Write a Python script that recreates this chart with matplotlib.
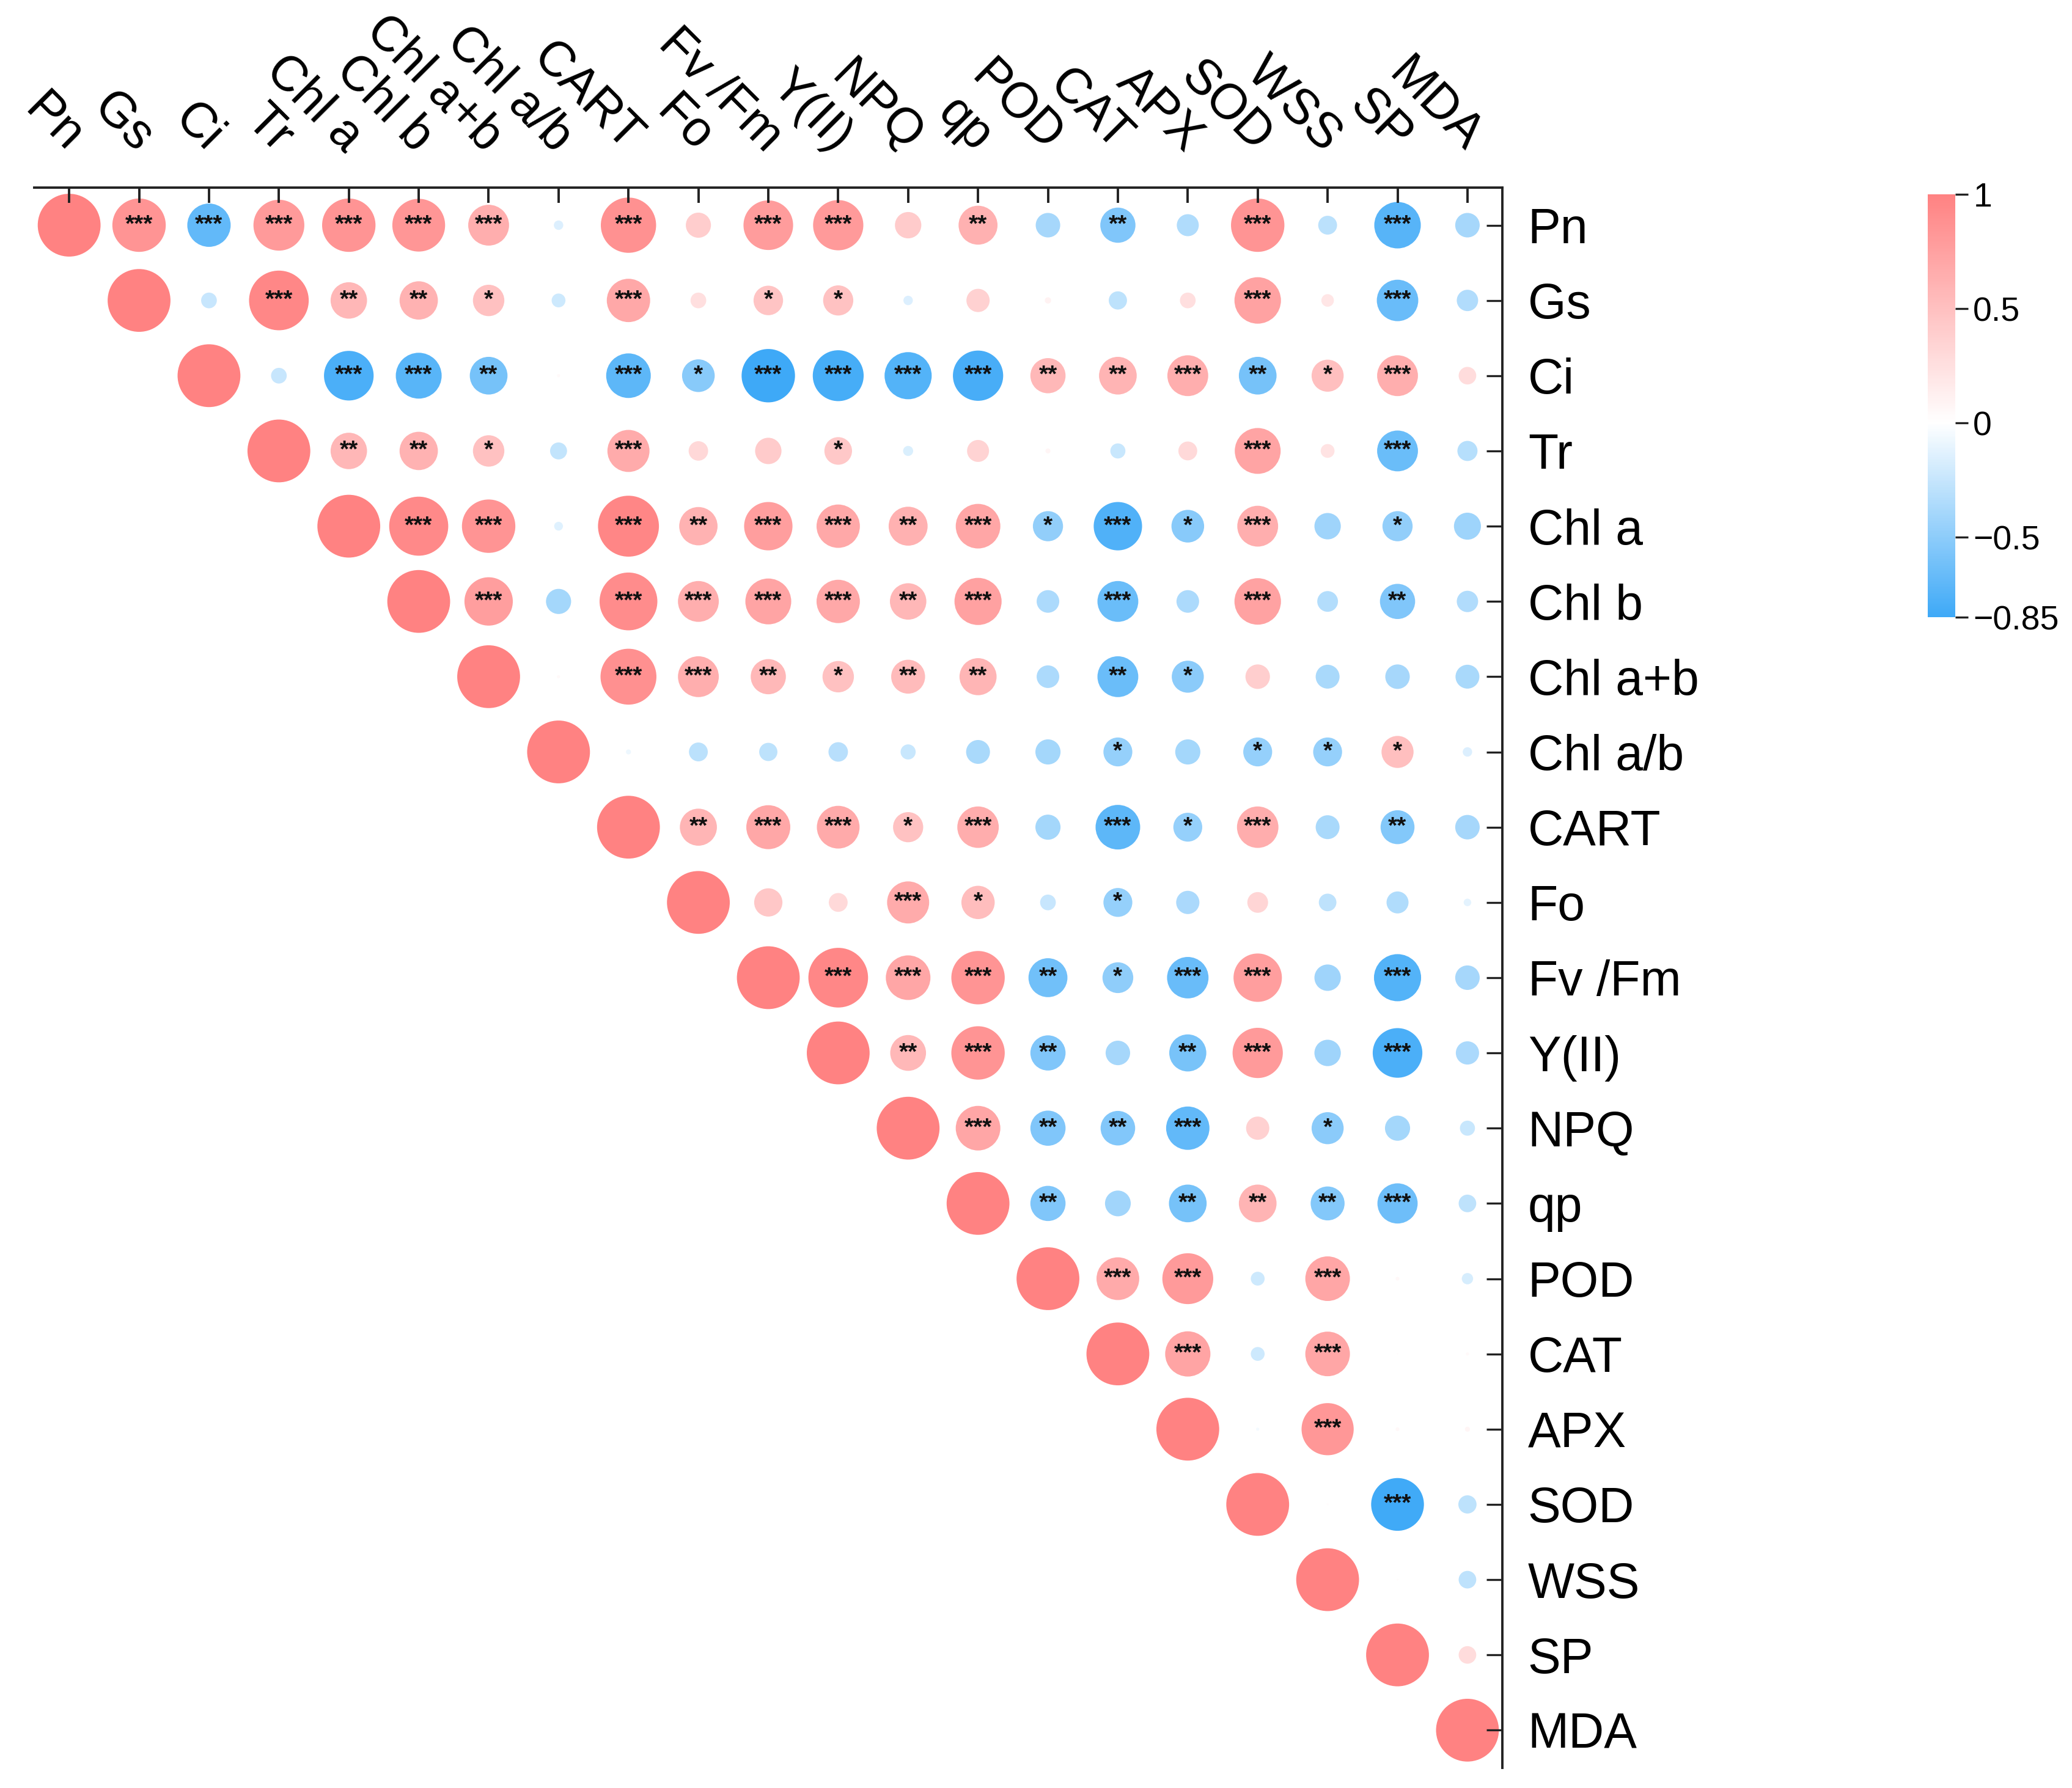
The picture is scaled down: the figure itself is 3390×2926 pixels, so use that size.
import matplotlib.pyplot as plt
import numpy as np
from matplotlib import transforms
from matplotlib.cm import ScalarMappable
from matplotlib.colors import LinearSegmentedColormap, Normalize

plt.rcParams['font.family'] = ['Liberation Sans', 'DejaVu Sans']

labels = ['Pn', 'Gs', 'Ci', 'Tr', 'Chl a', 'Chl b', 'Chl a+b', 'Chl a/b', 'CART', 'Fo',
          'Fv /Fm', 'Y(II)', 'NPQ', 'qp', 'POD', 'CAT', 'APX', 'SOD', 'WSS', 'SP', 'MDA']

# upper triangle, row i holds the values for columns i+1 .. end
upper = [
    [0.85, -0.69, 0.81, 0.85, 0.84, 0.65, -0.15, 0.88, 0.40, 0.79, 0.80, 0.42, 0.62, -0.39, -0.56, -0.35, 0.85, -0.30, -0.74, -0.39],
    [-0.25, 0.95, 0.58, 0.61, 0.50, -0.22, 0.69, 0.25, 0.47, 0.48, -0.15, 0.37, 0.10, -0.29, 0.25, 0.74, 0.20, -0.66, -0.34],
    [-0.25, -0.79, -0.73, -0.60, 0.05, -0.71, -0.52, -0.85, -0.81, -0.75, -0.80, 0.56, 0.60, 0.65, -0.60, 0.51, 0.65, 0.28],
    [0.58, 0.61, 0.50, -0.27, 0.67, 0.31, 0.42, 0.44, -0.16, 0.35, 0.08, -0.24, 0.30, 0.73, 0.22, -0.65, -0.32],
    [0.94, 0.85, -0.14, 0.97, 0.61, 0.77, 0.69, 0.62, 0.71, -0.48, -0.77, -0.52, 0.65, -0.42, -0.48, -0.43],
    [0.77, -0.40, 0.92, 0.65, 0.73, 0.69, 0.58, 0.75, -0.36, -0.65, -0.36, 0.74, -0.33, -0.56, -0.34],
    [0.05, 0.89, 0.65, 0.56, 0.50, 0.54, 0.59, -0.36, -0.65, -0.51, 0.39, -0.38, -0.39, -0.38],
    [-0.08, -0.30, -0.29, -0.31, -0.24, -0.38, -0.40, -0.46, -0.40, -0.46, -0.46, 0.51, -0.15],
    [0.59, 0.70, 0.68, 0.48, 0.66, -0.40, -0.71, -0.46, 0.66, -0.38, -0.54, -0.39],
    [0.45, 0.30, 0.67, 0.53, -0.25, -0.46, -0.37, 0.33, -0.28, -0.35, -0.12],
    [0.95, 0.71, 0.85, -0.62, -0.49, -0.66, 0.77, -0.42, -0.75, -0.39],
    [0.57, 0.85, -0.56, -0.39, -0.59, 0.80, -0.42, -0.79, -0.37],
    [0.71, -0.56, -0.55, -0.69, 0.37, -0.51, -0.40, -0.24],
    [-0.56, -0.41, -0.60, 0.60, -0.54, -0.64, -0.28],
    [0.68, 0.81, -0.22, 0.71, 0.06, -0.18],
    [0.72, -0.22, 0.71, 0.02, 0.05],
    [-0.05, 0.83, 0.06, 0.08],
    [0.03, -0.84, -0.29],
    [0.03, -0.28],
    [0.28],
    [],
]

stars = [
    ['***', '***', '***', '***', '***', '***', '', '***', '', '***', '***', '', '**', '', '**', '', '***', '', '***', ''],
    ['', '***', '**', '**', '*', '', '***', '', '*', '*', '', '', '', '', '', '***', '', '***', ''],
    ['', '***', '***', '**', '', '***', '*', '***', '***', '***', '***', '**', '**', '***', '**', '*', '***', ''],
    ['**', '**', '*', '', '***', '', '', '*', '', '', '', '', '', '***', '', '***', ''],
    ['***', '***', '', '***', '**', '***', '***', '**', '***', '*', '***', '*', '***', '', '*', ''],
    ['***', '', '***', '***', '***', '***', '**', '***', '', '***', '', '***', '', '**', ''],
    ['', '***', '***', '**', '*', '**', '**', '', '**', '*', '', '', '', ''],
    ['', '', '', '', '', '', '', '*', '', '*', '*', '*', ''],
    ['**', '***', '***', '*', '***', '', '***', '*', '***', '', '**', ''],
    ['', '', '***', '*', '', '*', '', '', '', '', ''],
    ['***', '***', '***', '**', '*', '***', '***', '', '***', ''],
    ['**', '***', '**', '', '**', '***', '', '***', ''],
    ['***', '**', '**', '***', '', '*', '', ''],
    ['**', '', '**', '**', '**', '***', ''],
    ['***', '***', '', '***', '', ''],
    ['***', '', '***', '', ''],
    ['', '***', '', ''],
    ['', '***', ''],
    ['', ''],
    [''],
    [],
]

n = len(labels)
r = np.full((n, n), np.nan)
sig = {}
for i in range(n):
    r[i, i] = 1.0
    for k, v in enumerate(upper[i]):
        r[i, i + 1 + k] = v
        sig[(i, i + 1 + k)] = stars[i][k]

vmin, vmax = -0.85, 1.0
cmap = LinearSegmentedColormap.from_list(
    'bwr_soft', [(0, '#3ea9f7'), (-vmin / (vmax - vmin), '#ffffff'), (1, '#ff8282')])
norm = Normalize(vmin, vmax)

fig = plt.figure(figsize=(16.95, 14.63), dpi=200)
ax = fig.add_axes([0.0165, 0.0113, 0.7086, 0.8838])

rows, cols = np.nonzero(~np.isnan(r))
vals = r[rows, cols]
diam = 37.0 * np.abs(vals)
ax.scatter(cols, rows, s=diam ** 2, c=vals, cmap=cmap, norm=norm, linewidths=0, zorder=1)

for (i, j), s in sig.items():
    if s:
        ax.text(j, i, s, ha='center', va='center', fontsize=14, fontweight='bold',
                color='#111111', zorder=3)

ax.set_xlim(-0.5, n - 0.5)
ax.set_ylim(n - 0.5, -0.5)

for side in ['left', 'bottom']:
    ax.spines[side].set_visible(False)
for side in ['top', 'right']:
    ax.spines[side].set_linewidth(1.4)
    ax.spines[side].set_color('#222222')

ax.xaxis.tick_top()
ax.set_xticks(range(n))
ax.set_xticklabels([])
ax.tick_params(axis='x', direction='in', length=9, width=1.4, color='#222222')

ax.yaxis.tick_right()
ax.set_yticks(range(n))
ax.set_yticklabels(labels, fontsize=29)
ax.tick_params(axis='y', direction='in', length=9.5, width=1.2, pad=15, color='#222222')

# rotated column labels above the top axis
off = transforms.ScaledTranslation(-2 / 72, 20 / 72, fig.dpi_scale_trans)
tr = transforms.blended_transform_factory(ax.transData, ax.transAxes) + off
for j, lab in enumerate(labels):
    ax.text(j, 1, lab, transform=tr, rotation=-45, rotation_mode='anchor',
            ha='right', va='baseline', fontsize=29, clip_on=False)

# colorbar
cax = fig.add_axes([0.9304, 0.6548, 0.0133, 0.2365])
cb = fig.colorbar(ScalarMappable(norm=norm, cmap=cmap), cax=cax, ticks=[1, 0.5, 0, -0.5, -0.85])
cb.outline.set_visible(False)
cb.ax.set_yticklabels(['1', '0.5', '0', '\u22120.5', '\u22120.85'])
cb.ax.tick_params(direction='out', length=7.5, width=1.2, labelsize=20, pad=3, color='#222222')

fig.savefig('out.png', dpi=200)
